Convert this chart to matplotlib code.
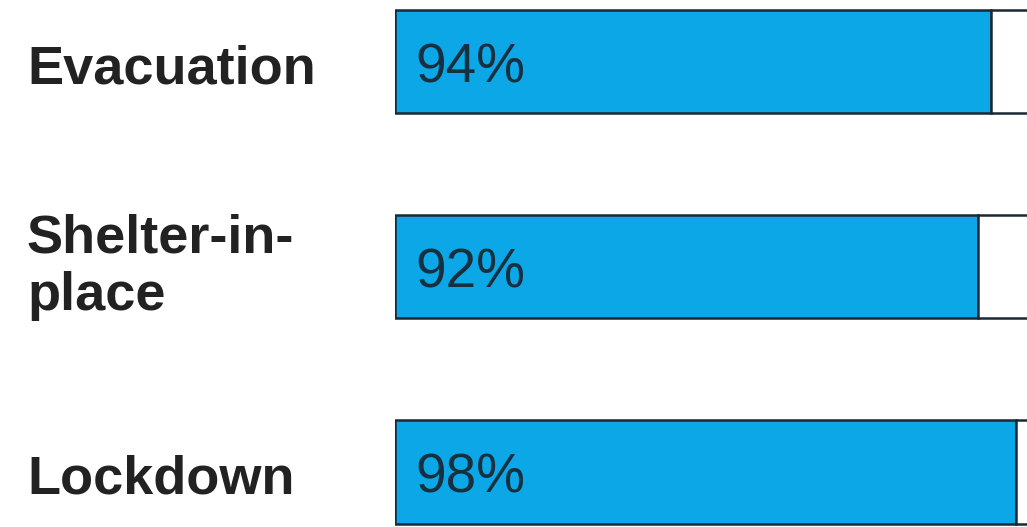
import matplotlib
matplotlib.use("Agg")
import matplotlib.pyplot as plt
from matplotlib.transforms import blended_transform_factory

# drill types and share of schools practising each one
drills = ["Evacuation", "Shelter-in-\nplace", "Lockdown"]
share = [94, 92, 98]
pct_labels = ["94%", "92%", "98%"]

blue = "#0BA7E6"
edge = "#1b2833"

fig = plt.figure(figsize=(10.27, 5.27), dpi=100)
ax = fig.add_axes([395 / 1027, 0, 634 / 1027, 1])

ys = range(len(drills))
rest = [100 - s for s in share]
ax.barh(ys, share, height=0.502, color=blue, edgecolor=edge, linewidth=1.8)
ax.barh(ys, rest, left=share, height=0.502, color="white", edgecolor=edge, linewidth=1.8)

ax.set_xlim(0, 100)
ax.set_ylim(2.268, -0.30)
ax.axis("off")

# category names sit in the left margin, in figure coordinates
tr = blended_transform_factory(fig.transFigure, ax.transData)
for y, name in zip(ys, drills):
    # baseline of the last line; two-line names hang lower
    off = 0.21 if "\n" in name else 0.105
    ax.text(27 / 1027, y + off, name, transform=tr, ha="left", va="baseline",
            fontsize=39, fontweight="bold", family="Liberation Sans",
            color="#222222", linespacing=1.18)

# value labels inside the blue part
for y, lab in zip(ys, pct_labels):
    ax.annotate(lab, (0, y + 0.1), xytext=(14.4, 0), textcoords="offset points",
                ha="left", va="baseline", fontsize=39.5, family="Liberation Sans",
                color="#16303f")

fig.savefig("out.png", dpi=100, facecolor="white")
